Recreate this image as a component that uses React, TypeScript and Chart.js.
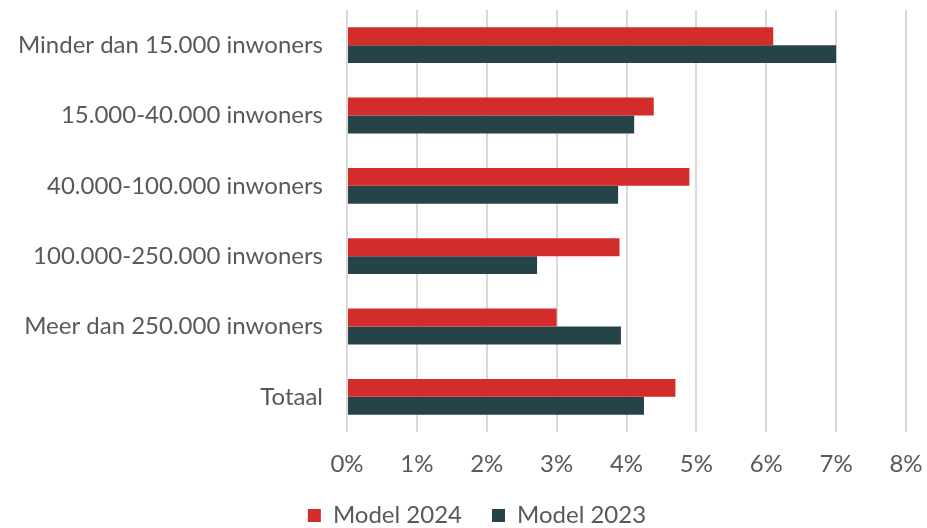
import React, { useEffect, useRef } from "react";
import { Chart, registerables } from "chart.js";

Chart.register(...registerables);

const categories = [
  "Minder dan 15.000 inwoners",
  "15.000-40.000 inwoners",
  "40.000-100.000 inwoners",
  "100.000-250.000 inwoners",
  "Meer dan 250.000 inwoners",
  "Totaal",
];
const seriesNames = ["Model 2024", "Model 2023"];
const model2024 = [6.1, 4.39, 4.9, 3.9, 3.0, 4.7];
const model2023 = [7.0, 4.11, 3.88, 2.72, 3.92, 4.25];
const xMin = 0;
const xMax = 8;
const xStep = 1;

const RED = "#D22D2B";
const TEAL = "#26434A";
const TEXT = "#595959";
const FONT = "Lato";

const legendShift = {
  id: "legendShift",
  afterLayout(chart: any) {
    const lg = chart.legend;
    if (lg) {
      lg.left += 24;
      lg.right += 24;
    }
  },
};

export default function App() {
  const ref = useRef<HTMLCanvasElement | null>(null);

  useEffect(() => {
    if (!ref.current) return;
    const chart = new Chart(ref.current, {
      type: "bar",
      data: {
        labels: categories,
        datasets: [
          {
            label: seriesNames[0],
            data: model2024,
            backgroundColor: RED,
            borderWidth: 0,
            categoryPercentage: 0.51,
            barPercentage: 1,
          },
          {
            label: seriesNames[1],
            data: model2023,
            backgroundColor: TEAL,
            borderWidth: 0,
            categoryPercentage: 0.51,
            barPercentage: 1,
          },
        ],
      },
      plugins: [legendShift],
      options: {
        indexAxis: "y",
        animation: false,
        responsive: false,
        maintainAspectRatio: false,
        layout: { padding: { top: 10, right: 21, left: 0, bottom: -9.5 } },
        plugins: {
          tooltip: { enabled: false },
          legend: {
            position: "bottom",
            labels: {
              boxWidth: 13,
              boxHeight: 13,
              padding: 30,
              color: TEXT,
              font: { family: FONT, size: 24, lineHeight: 1 },
            },
          },
        },
        scales: {
          x: {
            min: xMin,
            max: xMax,
            ticks: {
              stepSize: xStep,
              color: TEXT,
              padding: 0,
              font: { family: FONT, size: 24 },
              callback: (v: any) => `${v}%`,
            },
            grid: {
              color: "#D9D9D9",
              lineWidth: 2,
              drawTicks: true,
              tickLength: 18,
              tickColor: "rgba(0,0,0,0)",
            },
            border: { display: false },
            afterFit: (scale: any) => {
              scale.height = 41.5;
            },
          },
          y: {
            ticks: {
              color: TEXT,
              padding: 0,
              font: { family: FONT, size: 24, lineHeight: 0.8 },
            },
            grid: {
              display: true,
              drawOnChartArea: false,
              drawTicks: true,
              tickLength: 24,
              tickColor: "rgba(0,0,0,0)",
            },
            border: { display: false },
            afterFit: (scale: any) => {
              scale.width = 347;
            },
          },
        },
      },
    });
    return () => chart.destroy();
  }, []);

  return (
    <div style={{ position: "fixed", left: 0, top: 0, width: 927, height: 528, background: "#fff" }}>
      <canvas ref={ref} width={927} height={528} style={{ width: 927, height: 528 }} />
    </div>
  );
}
